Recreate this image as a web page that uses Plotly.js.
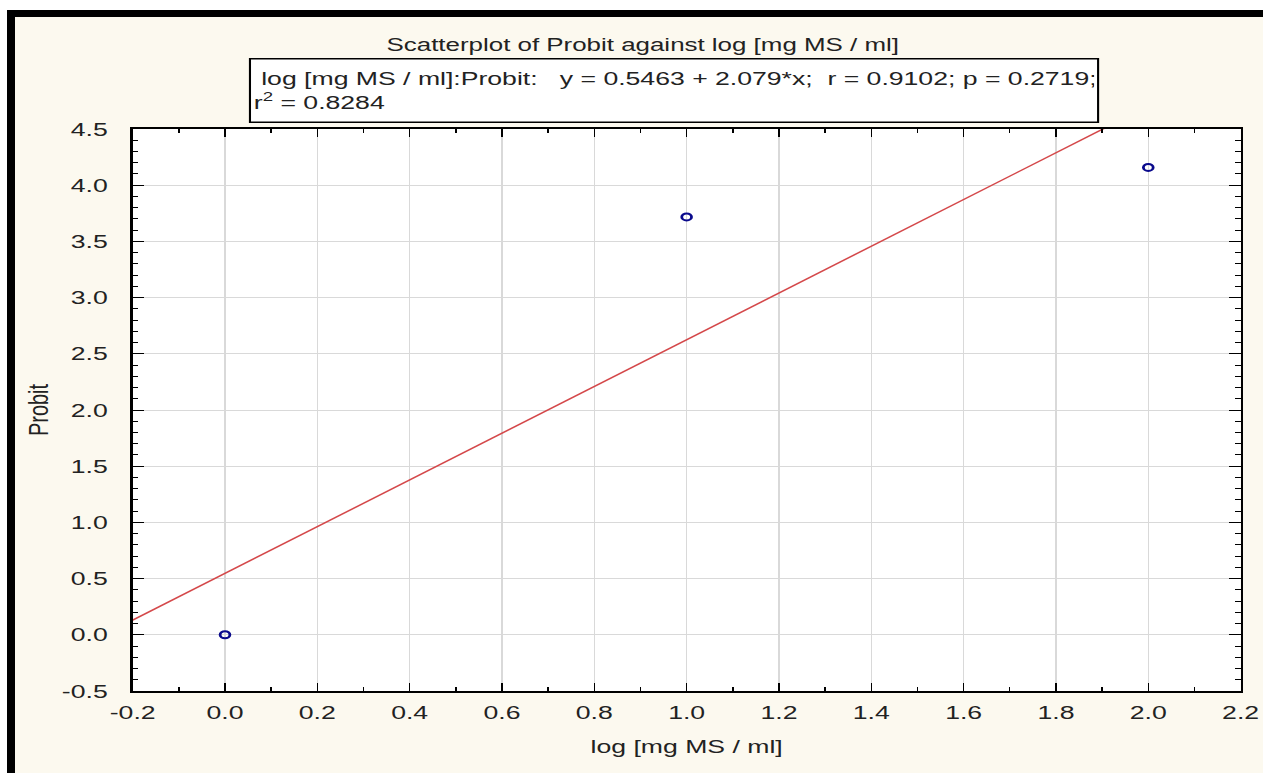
<!DOCTYPE html>
<html>
<head>
<meta charset="utf-8">
<script src="https://cdn.plot.ly/plotly-3.0.1.min.js"></script>
<style>
  html, body { margin: 0; padding: 0; background: #ffffff; width: 1263px; height: 773px; overflow: hidden; }
  #frame { position: absolute; left: 7px; top: 10px; width: 1256px; height: 763px; background: #000000; }
  #holder { position: absolute; left: 15px; top: 17px; width: 1248px; height: 756px; background: #fcf9ef; overflow: hidden; }
  #chart { position: absolute; left: 0; top: 0; width: 891px; height: 756px; transform: scaleX(1.4007); transform-origin: 0 0; }
</style>
</head>
<body>
<div id="frame"></div>
<div id="holder"><div id="chart"></div></div>
<script>
// ---- data ----
const logDose = [0, 1, 2];             // log [mg MS / ml]
const probit = [0, 3.718, 4.158];      // Probit
const fitIntercept = 0.5463;
const fitSlope = 2.079;
const fitR = 0.9102;
const fitP = 0.2719;
const fitR2 = 0.8284;
const xRange = [-0.2, 2.2];
const yRange = [-0.5, 4.5];
const xTicks = [-0.2, 0.0, 0.2, 0.4, 0.6, 0.8, 1.0, 1.2, 1.4, 1.6, 1.8, 2.0, 2.2];
const yTicks = [-0.5, 0.0, 0.5, 1.0, 1.5, 2.0, 2.5, 3.0, 3.5, 4.0, 4.5];
const xTickText = xTicks.map(v => v.toFixed(1));
const yTickText = yTicks.map(v => v.toFixed(1));

// fitted line across the x axis range
const fitX = xRange.slice();
const fitY = fitX.map(x => fitIntercept + fitSlope * x);

const FONT = "Liberation Sans, Arial, sans-serif";
const TXT = "#222222";

const traces = [
  {
    x: fitX, y: fitY, type: "scatter", mode: "lines",
    line: { color: "#d4484a", width: 1.4 },
    hoverinfo: "skip", showlegend: false
  },
  {
    x: logDose, y: probit, type: "scatter", mode: "markers",
    marker: { symbol: "circle-open", size: 7, color: "#0a0a8c", line: { width: 2, color: "#0a0a8c" } },
    showlegend: false
  }
];

const nb = "\u00a0";
const boxText = nb + "log [mg MS / ml]:Probit:" + nb + nb + nb + "y = " + fitIntercept.toFixed(4) + " + " + fitSlope.toFixed(3) +
  "*x;" + nb + nb + "r = " + fitR.toFixed(4) + "; p = " + fitP.toFixed(4) + ";" + "<br>r<sup>2</sup> = " + fitR2.toFixed(4);

const axisCommon = {
  showline: true, linecolor: "#000000", linewidth: 2, mirror: "ticks",
  ticks: "inside", ticklen: 8, tickwidth: 1, tickcolor: "#000000",
  showgrid: true, gridcolor: "#d9d9d9", gridwidth: 1,
  zeroline: false, tickfont: { family: FONT, size: 19, color: TXT },
  fixedrange: true
};

const layout = {
  width: 891, height: 756,
  paper_bgcolor: "#fcf9ef", plot_bgcolor: "#ffffff",
  margin: { l: 84, r: 16, t: 112, b: 82 },
  title: {
    text: "Scatterplot of Probit against log [mg MS / ml]",
    font: { family: FONT, size: 18.5, color: TXT },
    xref: "container", x: 0.503, xanchor: "center",
    yref: "container", y: 1 - 28 / 756, yanchor: "middle"
  },
  xaxis: Object.assign({}, axisCommon, {
    range: xRange, tickmode: "array", tickvals: xTicks, ticktext: xTickText, ticklabelstandoff: 3,
    minor: { ticks: "inside", dtick: 0.1, tick0: -0.2, ticklen: 4, tickcolor: "#000000", showgrid: false },
    title: { text: "log [mg MS / ml]", font: { family: FONT, size: 19, color: TXT }, standoff: 18 }
  }),
  yaxis: Object.assign({}, axisCommon, {
    range: yRange, tickmode: "array", tickvals: yTicks, ticktext: yTickText, ticklabelstandoff: 12,
    minor: { ticks: "inside", dtick: 0.1, tick0: -0.5, ticklen: 4, tickcolor: "#000000", showgrid: false },
    title: { text: "Probit", font: { family: FONT, size: 20, color: TXT }, standoff: 4 }
  }),
  annotations: [{
    text: boxText, showarrow: false,
    xref: "paper", yref: "paper", x: 0.488, y: 1.0685, xanchor: "center", yanchor: "middle",
    width: 600, height: 58, align: "left", valign: "middle",
    bgcolor: "#ffffff", bordercolor: "#000000", borderwidth: 1.5, borderpad: 2,
    font: { family: FONT, size: 19, color: TXT }
  }]
};

Plotly.newPlot("chart", traces, layout, { displayModeBar: false, staticPlot: true });
</script>
</body>
</html>
